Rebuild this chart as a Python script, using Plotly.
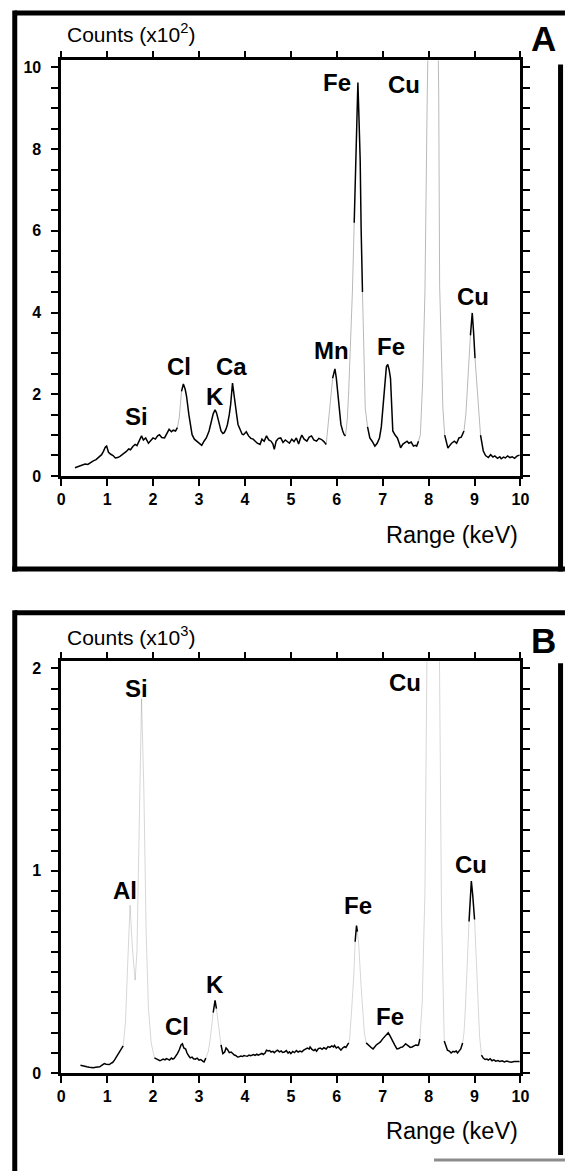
import plotly.graph_objects as go

# ---------------- data ----------------
# Panel A: counts in units of 10^2
A_KEV = [0.30, 0.36, 0.42, 0.48, 0.52, 0.58, 0.64, 0.70, 0.76, 0.82, 0.88, 0.92, 0.96, 0.99,
         1.03, 1.08, 1.13, 1.18, 1.23, 1.28, 1.33, 1.37, 1.42, 1.47, 1.51, 1.56, 1.61, 1.65,
         1.70, 1.75, 1.79, 1.84, 1.90, 1.95, 2.00, 2.05, 2.10, 2.14, 2.19, 2.25, 2.30, 2.35,
         2.40, 2.44, 2.49, 2.53, 2.57, 2.62, 2.66, 2.70, 2.73, 2.78, 2.82, 2.85, 2.90, 2.95,
         3.00, 3.06, 3.11, 3.16, 3.22, 3.27, 3.31, 3.35, 3.38, 3.41, 3.45, 3.48, 3.52, 3.55,
         3.59, 3.62, 3.66, 3.69, 3.73, 3.76, 3.78, 3.82, 3.85, 3.90, 3.94, 3.97, 4.03, 4.08,
         4.13, 4.18, 4.22, 4.27, 4.33, 4.37, 4.42, 4.47, 4.52, 4.57, 4.61, 4.64, 4.68, 4.73,
         4.78, 4.83, 4.88, 4.92, 4.97, 5.02, 5.07, 5.12, 5.17, 5.21, 5.24, 5.29, 5.35, 5.40,
         5.45, 5.50, 5.56, 5.61, 5.67, 5.72, 5.77, 5.80, 5.84, 5.88, 5.91, 5.96, 5.99, 6.02,
         6.06, 6.09, 6.13, 6.16, 6.19, 6.23, 6.26, 6.30, 6.34, 6.38, 6.42, 6.44, 6.46, 6.48,
         6.51, 6.53, 6.56, 6.59, 6.62, 6.67, 6.72, 6.77, 6.83, 6.88, 6.93, 6.97, 7.00, 7.04,
         7.08, 7.11, 7.14, 7.17, 7.20, 7.22, 7.27, 7.32, 7.36, 7.39, 7.44, 7.49, 7.53, 7.57,
         7.62, 7.67, 7.71, 7.74, 7.78, 7.82, 7.87, 7.92, 7.97, 8.02, 8.10, 8.17, 8.22, 8.24,
         8.28, 8.31, 8.35, 8.39, 8.42, 8.45, 8.50, 8.56, 8.61, 8.66, 8.71, 8.77, 8.81, 8.84,
         8.88, 8.91, 8.93, 8.95, 8.98, 9.01, 9.05, 9.08, 9.13, 9.19, 9.24, 9.30, 9.35, 9.40,
         9.44, 9.50, 9.55, 9.58, 9.63, 9.67, 9.72, 9.77, 9.82, 9.87, 9.93, 9.98]
A_COUNTS = [0.20, 0.22, 0.24, 0.27, 0.29, 0.28, 0.33, 0.37, 0.40, 0.46, 0.52, 0.60, 0.70, 0.73,
            0.58, 0.53, 0.50, 0.44, 0.45, 0.48, 0.52, 0.55, 0.60, 0.66, 0.64, 0.72, 0.77, 0.74,
            0.85, 0.98, 0.88, 0.93, 0.80, 0.86, 0.93, 0.90, 0.98, 1.01, 0.94, 0.93, 1.05, 1.14,
            1.08, 1.12, 1.10, 1.18, 1.42, 2.07, 2.25, 2.12, 1.95, 1.50, 1.20, 1.01, 0.90, 0.85,
            0.80, 0.75, 0.85, 0.93, 1.10, 1.34, 1.52, 1.62, 1.55, 1.42, 1.20, 1.10, 1.04, 1.06,
            1.15, 1.26, 1.50, 1.75, 2.27, 2.05, 1.83, 1.50, 1.26, 1.10, 1.02, 1.01, 1.08, 0.98,
            0.92, 0.90, 0.85, 0.80, 0.77, 0.90, 0.85, 0.98, 0.88, 0.85, 0.78, 0.65, 0.85, 0.92,
            0.93, 0.82, 0.88, 0.85, 0.80, 0.90, 0.84, 0.93, 0.78, 0.92, 1.00, 0.90, 0.85, 0.95,
            0.98, 0.88, 0.85, 0.92, 0.89, 0.84, 0.77, 1.10, 1.66, 2.10, 2.39, 2.62, 2.40, 2.07,
            1.60, 1.26, 1.10, 1.01, 0.98, 1.40, 2.07, 3.20, 4.50, 6.20, 7.73, 8.80, 9.63, 8.90,
            7.73, 6.10, 4.50, 2.90, 1.66, 1.20, 0.93, 0.85, 0.73, 0.80, 0.93, 1.20, 1.66, 2.20,
            2.67, 2.73, 2.60, 2.39, 1.70, 1.10, 1.00, 0.93, 0.80, 0.69, 0.78, 0.82, 0.85, 0.80,
            0.83, 0.73, 0.75, 0.73, 0.85, 1.01, 2.30, 4.50, 9.35, 14.0, 18.0, 14.0, 9.35, 4.66,
            2.60, 1.66, 1.00, 0.77, 0.68, 0.73, 0.80, 0.85, 0.80, 0.93, 0.95, 1.10, 1.50, 2.07,
            2.80, 3.44, 3.80, 3.99, 3.50, 2.88, 2.20, 1.66, 1.00, 0.61, 0.50, 0.45, 0.52, 0.46,
            0.49, 0.43, 0.47, 0.42, 0.46, 0.44, 0.49, 0.45, 0.47, 0.43, 0.49, 0.51]

# Panel B: counts in units of 10^3
B_KEV = [0.42, 0.47, 0.52, 0.56, 0.61, 0.66, 0.70, 0.75, 0.80, 0.84, 0.89, 0.94, 0.98, 1.02,
         1.05, 1.09, 1.12, 1.16, 1.19, 1.23, 1.26, 1.30, 1.35, 1.40, 1.45, 1.50, 1.55, 1.61,
         1.65, 1.70, 1.75, 1.80, 1.85, 1.90, 1.96, 2.03, 2.07, 2.11, 2.15, 2.18, 2.22, 2.26,
         2.29, 2.32, 2.36, 2.40, 2.43, 2.46, 2.50, 2.53, 2.57, 2.61, 2.64, 2.67, 2.71, 2.74,
         2.78, 2.81, 2.85, 2.88, 2.92, 2.96, 3.00, 3.04, 3.08, 3.11, 3.15, 3.20, 3.24, 3.27,
         3.31, 3.35, 3.38, 3.41, 3.44, 3.48, 3.52, 3.56, 3.59, 3.62, 3.66, 3.70, 3.73, 3.77,
         3.80, 3.84, 3.87, 3.91, 3.95, 3.98, 4.01, 4.05, 4.09, 4.12, 4.15, 4.19, 4.22, 4.26,
         4.29, 4.33, 4.37, 4.40, 4.44, 4.47, 4.51, 4.54, 4.57, 4.61, 4.64, 4.68, 4.71, 4.75,
         4.79, 4.82, 4.86, 4.90, 4.94, 4.97, 5.00, 5.04, 5.08, 5.12, 5.16, 5.20, 5.24, 5.28,
         5.32, 5.36, 5.40, 5.42, 5.46, 5.50, 5.53, 5.56, 5.60, 5.64, 5.68, 5.72, 5.77, 5.81,
         5.85, 5.89, 5.93, 5.95, 5.99, 6.03, 6.06, 6.09, 6.13, 6.17, 6.20, 6.23, 6.26, 6.28,
         6.32, 6.37, 6.40, 6.43, 6.45, 6.48, 6.53, 6.57, 6.60, 6.64, 6.69, 6.72, 6.76, 6.79,
         6.83, 6.86, 6.90, 6.95, 7.00, 7.05, 7.09, 7.12, 7.16, 7.19, 7.22, 7.26, 7.31, 7.35,
         7.39, 7.43, 7.47, 7.50, 7.53, 7.57, 7.60, 7.64, 7.68, 7.72, 7.76, 7.78, 7.81, 7.86,
         7.92, 7.98, 8.10, 8.22, 8.28, 8.32, 8.34, 8.38, 8.41, 8.45, 8.49, 8.53, 8.56, 8.60,
         8.63, 8.67, 8.70, 8.74, 8.77, 8.80, 8.84, 8.88, 8.91, 8.93, 8.96, 9.00, 9.04, 9.07,
         9.11, 9.15, 9.19, 9.23, 9.27, 9.30, 9.34, 9.38, 9.42, 9.46, 9.51, 9.55, 9.60, 9.65,
         9.70, 9.75, 9.80, 9.86, 9.93, 9.98]
B_COUNTS = [0.040, 0.036, 0.033, 0.032, 0.030, 0.028, 0.027, 0.030, 0.031, 0.032, 0.040, 0.048,
            0.045, 0.042, 0.043, 0.050, 0.053, 0.065, 0.076, 0.090, 0.105, 0.120, 0.135, 0.250,
            0.550, 0.830, 0.620, 0.460, 0.600, 1.300, 1.850, 1.400, 0.700, 0.320, 0.150, 0.076,
            0.072, 0.068, 0.062, 0.065, 0.070, 0.066, 0.072, 0.070, 0.065, 0.075, 0.070, 0.073,
            0.085, 0.097, 0.115, 0.140, 0.146, 0.125, 0.120, 0.100, 0.085, 0.076, 0.080, 0.072,
            0.070, 0.075, 0.065, 0.068, 0.060, 0.056, 0.075, 0.105, 0.160, 0.220, 0.300, 0.360,
            0.320, 0.270, 0.200, 0.140, 0.097, 0.105, 0.125, 0.118, 0.102, 0.105, 0.097, 0.090,
            0.088, 0.080, 0.081, 0.085, 0.083, 0.088, 0.086, 0.084, 0.090, 0.087, 0.089, 0.092,
            0.088, 0.094, 0.090, 0.095, 0.098, 0.093, 0.100, 0.114, 0.110, 0.112, 0.105, 0.108,
            0.102, 0.110, 0.114, 0.106, 0.110, 0.103, 0.105, 0.112, 0.100, 0.106, 0.097, 0.108,
            0.102, 0.112, 0.105, 0.110, 0.106, 0.114, 0.118, 0.124, 0.120, 0.130, 0.118, 0.112,
            0.118, 0.109, 0.122, 0.125, 0.118, 0.126, 0.120, 0.132, 0.128, 0.135, 0.130, 0.138,
            0.125, 0.130, 0.122, 0.114, 0.125, 0.132, 0.128, 0.138, 0.150, 0.170, 0.300, 0.480,
            0.650, 0.730, 0.700, 0.630, 0.430, 0.300, 0.200, 0.150, 0.138, 0.130, 0.125, 0.120,
            0.132, 0.140, 0.146, 0.155, 0.170, 0.185, 0.195, 0.200, 0.185, 0.170, 0.160, 0.140,
            0.120, 0.122, 0.128, 0.130, 0.138, 0.146, 0.140, 0.135, 0.128, 0.130, 0.136, 0.140,
            0.138, 0.140, 0.170, 0.350, 0.900, 2.500, 4.000, 2.500, 0.800, 0.250, 0.160, 0.130,
            0.114, 0.110, 0.100, 0.108, 0.105, 0.110, 0.100, 0.112, 0.120, 0.150, 0.200, 0.320,
            0.510, 0.750, 0.900, 0.950, 0.880, 0.760, 0.550, 0.350, 0.180, 0.090, 0.075, 0.068,
            0.070, 0.065, 0.072, 0.062, 0.066, 0.060, 0.063, 0.058, 0.062, 0.056, 0.060, 0.057,
            0.055, 0.058, 0.056, 0.058]

X_TICKS = [0, 1, 2, 3, 4, 5, 6, 7, 8, 9, 10]
A_YTICKS = [0, 2, 4, 6, 8, 10]
B_YTICKS = [0, 1, 2]

A_PEAK_LABELS = ["Si", "Cl", "K", "Ca", "Mn", "Fe", "Fe", "Cu", "Cu"]
A_PEAK_KEV = [1.63, 2.56, 3.35, 3.71, 5.89, 6.01, 7.17, 7.46, 8.96]
A_PEAK_Y = [1.46, 2.68, 1.94, 2.69, 3.06, 9.64, 3.18, 9.59, 4.39]

B_PEAK_LABELS = ["Si", "Al", "Cl", "K", "Fe", "Fe", "Cu", "Cu"]
B_PEAK_KEV = [1.64, 1.39, 2.52, 3.35, 6.47, 7.15, 7.48, 8.93]
B_PEAK_Y = [1.90, 0.905, 0.23, 0.44, 0.83, 0.28, 1.93, 1.03]

# ---------------- styling (not data) ----------------
# energy spans where the printed trace is faint (steep peak flanks)
FAINT_A = [(2.55, 2.63), (5.78, 5.90), (6.19, 6.38), (6.55, 6.66), (7.80, 8.33),
           (8.78, 8.90), (9.02, 9.12)]
FAINT_B = [(1.36, 2.02), (3.16, 3.32), (3.38, 3.49), (6.26, 6.41), (6.46, 6.62),
           (7.80, 8.33), (8.75, 8.89), (9.02, 9.13)]

W, H = 572, 1173
FONT = "Liberation Sans, Arial, Helvetica, sans-serif"


def split_runs(xs, ys, spans):
    dark_x, dark_y, faint_x, faint_y = [], [], [], []
    prev = None
    for i in range(len(xs) - 1):
        mid = (xs[i] + xs[i + 1]) / 2
        is_faint = any(a <= mid <= b for a, b in spans)
        tx, ty = (faint_x, faint_y) if is_faint else (dark_x, dark_y)
        if prev != is_faint:
            if tx:
                tx.append(None)
                ty.append(None)
            tx.append(xs[i])
            ty.append(ys[i])
        tx.append(xs[i + 1])
        ty.append(ys[i + 1])
        prev = is_faint
    return dark_x, dark_y, faint_x, faint_y


def py(p):
    return 1 - p / H


fig = go.Figure()

for xs, ys, spans, xa, ya, alpha in [(A_KEV, A_COUNTS, FAINT_A, "x", "y", 0.28),
                                     (B_KEV, B_COUNTS, FAINT_B, "x2", "y2", 0.16)]:
    dx, dy, fx, fy = split_runs(xs, ys, spans)
    fig.add_trace(go.Scatter(x=fx, y=fy, mode="lines", xaxis=xa, yaxis=ya,
                             line=dict(color="rgba(0,0,0,%s)" % alpha, width=1),
                             showlegend=False, hoverinfo="skip"))
    fig.add_trace(go.Scatter(x=dx, y=dy, mode="lines", xaxis=xa, yaxis=ya,
                             line=dict(color="black", width=1.5),
                             showlegend=False, hoverinfo="skip"))

XDOM = [58.5 / W, 528.5 / W]
axis_common = dict(showline=True, linewidth=2.5, linecolor="black", mirror="ticks",
                   ticks="outside", ticklen=7, tickwidth=2, tickcolor="black",
                   showgrid=False, zeroline=False,
                   tickfont=dict(family=FONT, size=16, color="black", weight="bold"))
minor_common = dict(ticks="outside", ticklen=7, tickwidth=2, tickcolor="black",
                    showgrid=False)

fig.update_layout(
    width=W, height=H, autosize=False,
    margin=dict(l=0, r=0, t=0, b=0),
    paper_bgcolor="white", plot_bgcolor="white",
    xaxis=dict(domain=XDOM, anchor="y", range=[0, 10], tickvals=X_TICKS, **axis_common),
    yaxis=dict(domain=[py(479), py(60)], anchor="x", range=[0, 10.17],
               tickvals=A_YTICKS, ticklabelstandoff=7,
               minor=dict(dtick=0.5, tick0=0, **minor_common), **axis_common),
    xaxis2=dict(domain=XDOM, anchor="y2", range=[0, 10], tickvals=X_TICKS, **axis_common),
    yaxis2=dict(domain=[py(1081.5), py(666)], anchor="x2", range=[0, 2.035],
                tickvals=B_YTICKS, ticklabelstandoff=7,
                minor=dict(dtick=0.1, tick0=0, **minor_common), **axis_common),
)

ann = []
for lab, x, y in zip(A_PEAK_LABELS, A_PEAK_KEV, A_PEAK_Y):
    ann.append(dict(text=lab, x=x, y=y, xref="x", yref="y", showarrow=False,
                    xanchor="center", yanchor="middle",
                    font=dict(family=FONT, size=24, color="black", weight="bold")))
for lab, x, y in zip(B_PEAK_LABELS, B_PEAK_KEV, B_PEAK_Y):
    ann.append(dict(text=lab, x=x, y=y, xref="x2", yref="y2", showarrow=False,
                    xanchor="center", yanchor="middle",
                    font=dict(family=FONT, size=24, color="black", weight="bold")))

for letter, cy, exp, ly, ry in [("A", 38, "2", 32, 539), ("B", 645, "3", 640, 1140)]:
    ann.append(dict(text=letter, x=552 / W, y=py(cy), xref="paper", yref="paper",
                    showarrow=False, xanchor="center", yanchor="middle",
                    font=dict(family=FONT, size=35, color="black", weight="bold")))
    ann.append(dict(text="Counts (x10<sup>" + exp + "</sup>)", x=62 / W, y=py(ly),
                    xref="paper", yref="paper", showarrow=False,
                    xanchor="left", yanchor="middle",
                    font=dict(family=FONT, size=21, color="black")))
    ann.append(dict(text="Range (keV)", x=528 / W, y=py(ry), xref="paper", yref="paper",
                    showarrow=False, xanchor="right", yanchor="middle",
                    font=dict(family=FONT, size=23.5, color="black")))

fig.update_layout(annotations=ann)

LW = 5
def seg(x0, y0, x1, y1, color="black", width=LW):
    return dict(type="line", xref="paper", yref="paper", x0=x0 / W, x1=x1 / W,
                y0=py(y0), y1=py(y1), line=dict(color=color, width=width))

shapes = [
    # panel A frame
    seg(11, 12, 574, 12), seg(11, 9.5, 11, 575.5), seg(8.5, 573, 574, 573),
    seg(569.5, 64, 569.5, 575.5),
    # panel B frame
    seg(11, 617, 574, 617), seg(11, 614.5, 11, 1180),
    seg(569.5, 668, 569.5, 1164),
    seg(440, 1169, 574, 1169, color="rgba(0,0,0,0.45)", width=3),
]
fig.update_layout(shapes=shapes)

# remove the default page margin so the 572x1173 figure fills the window exactly
fig.write_html("out.html",
               config={"displayModeBar": False, "responsive": False},
               post_script="document.body.style.margin='0';"
                           "document.body.style.overflow='hidden';")
